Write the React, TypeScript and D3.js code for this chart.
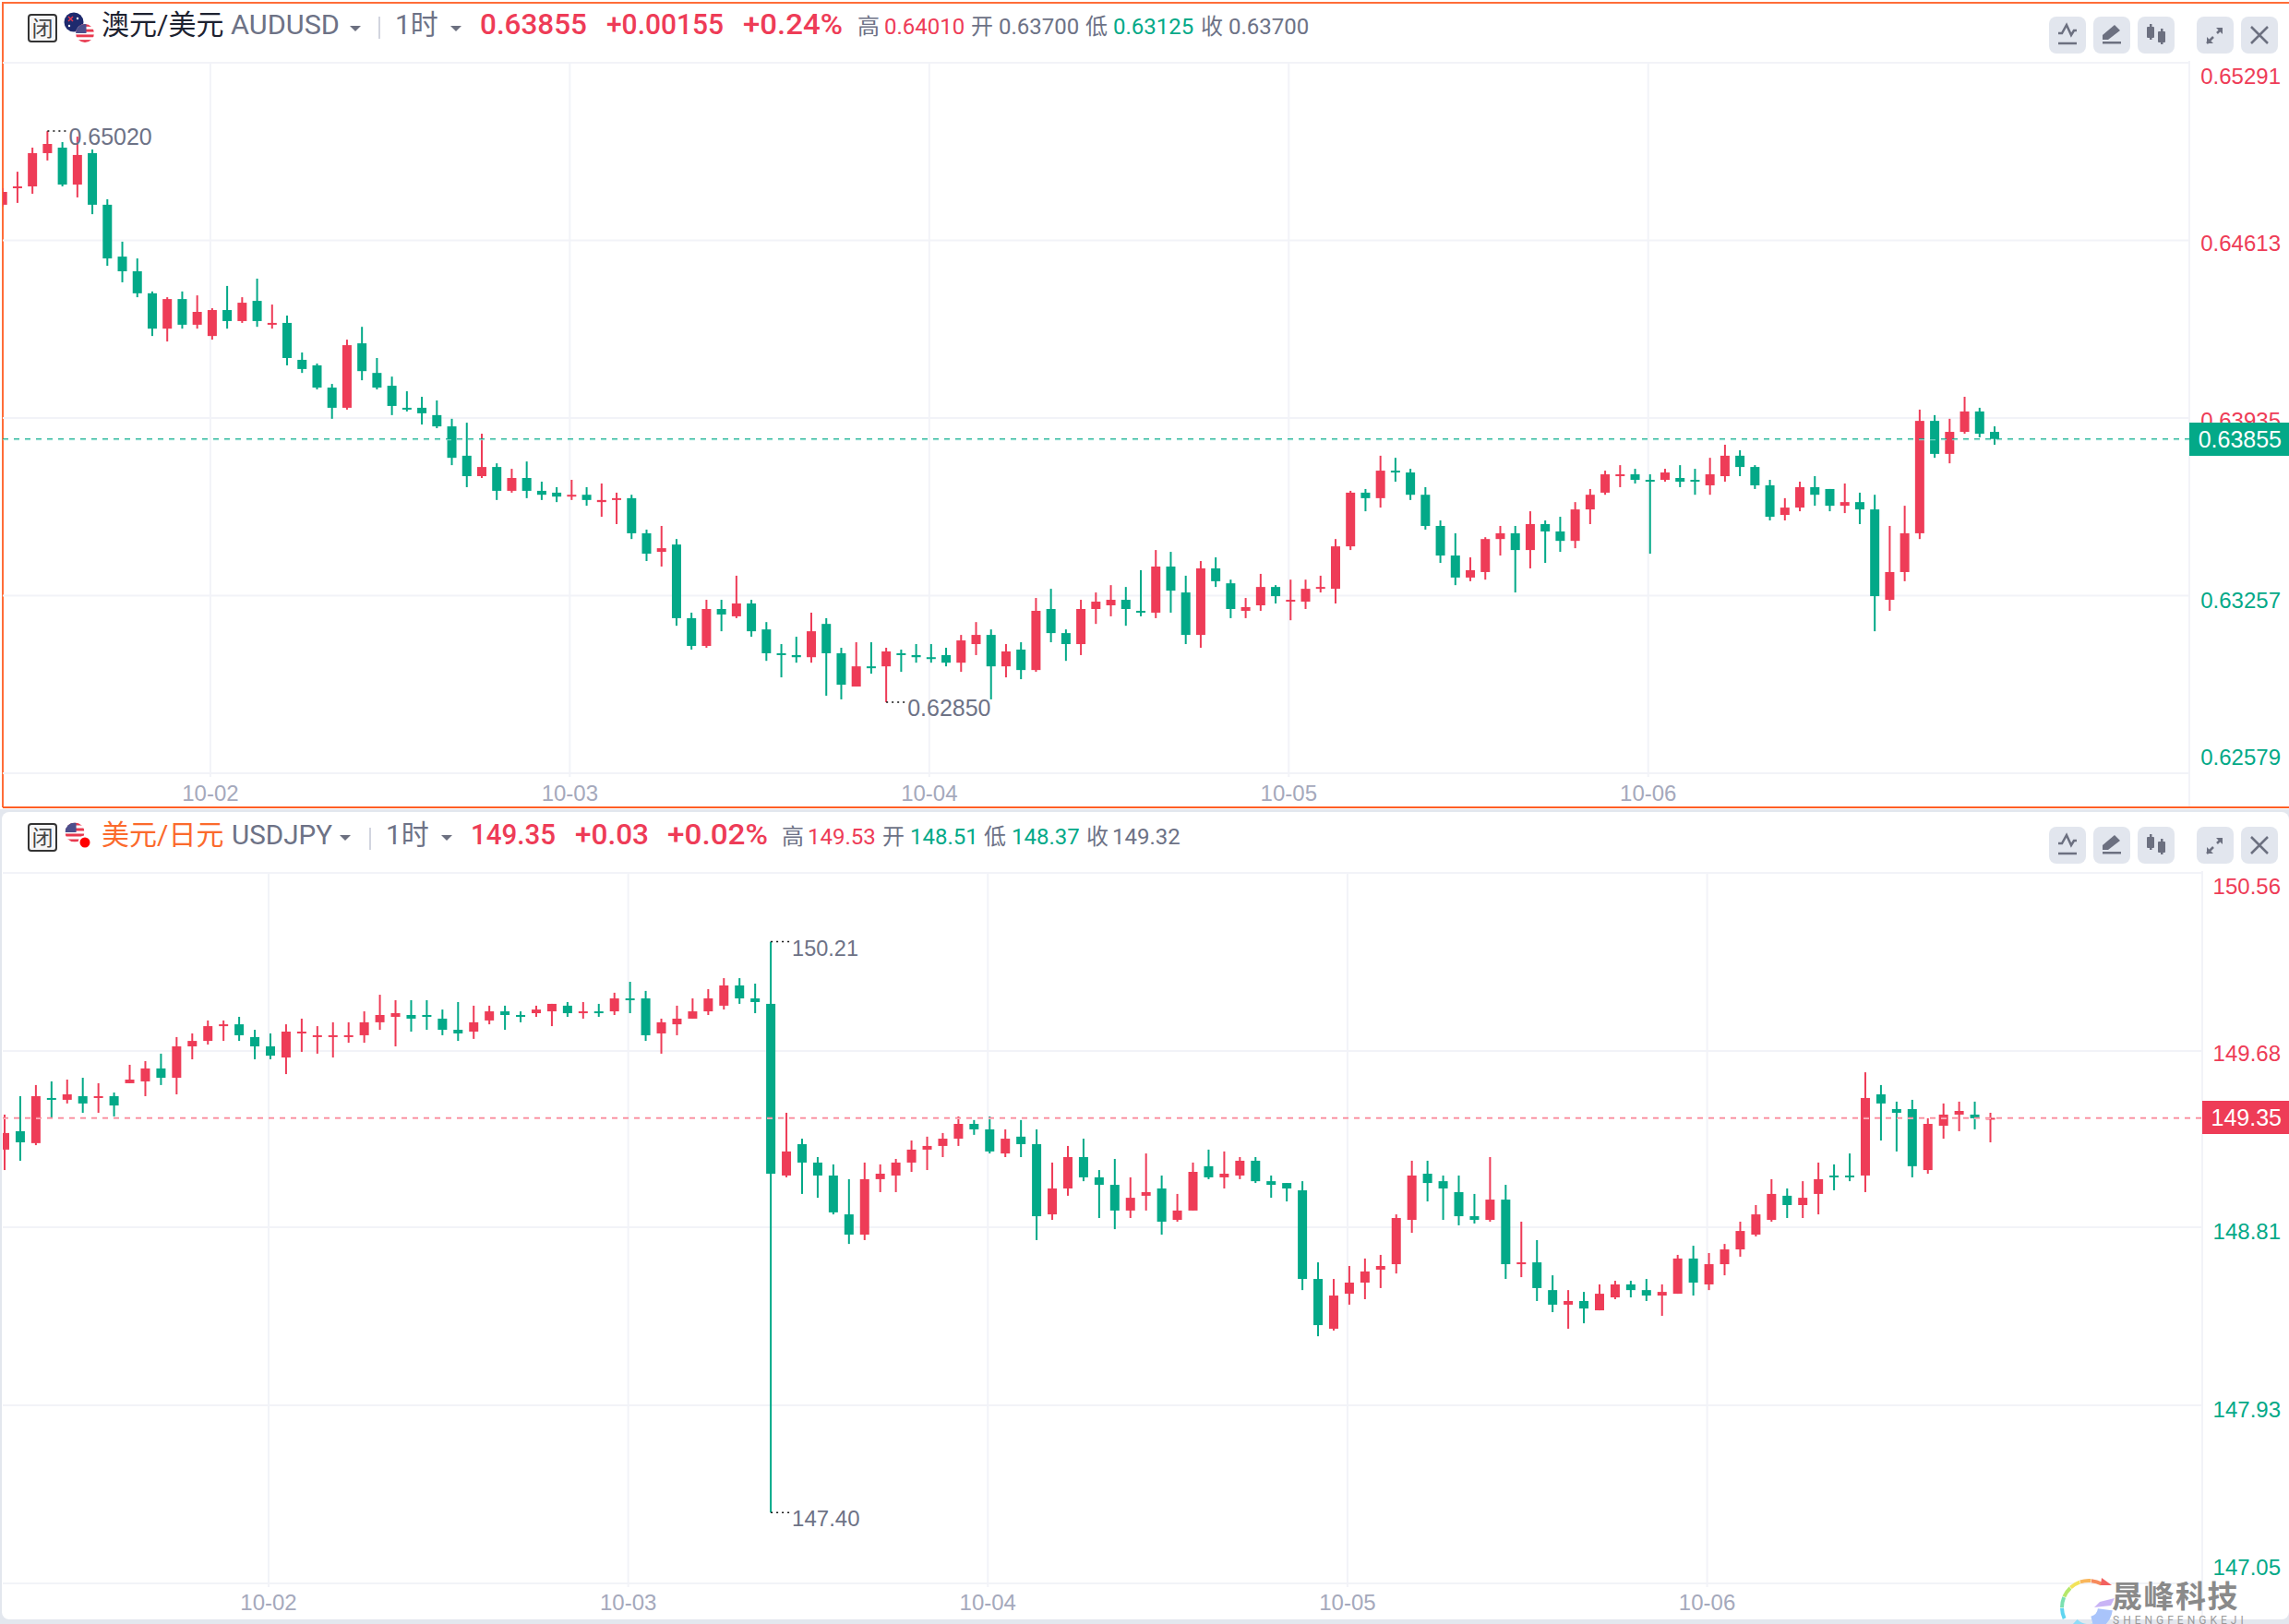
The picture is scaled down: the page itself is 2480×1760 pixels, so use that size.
import React from 'react';
import * as d3 from 'd3';

// AUDUSD 1h candles, in points (1 point = 0.00001)
const audOpen = [
  64749,64812,64819,64946,64967,64826,64946,64749,64551,64495,
  64411,64276,64389,64291,64248,64347,64305,64382,64291,64298,
  64157,64136,64051,63974,64220,64107,64058,63974,63974,63946,
  63903,63791,63713,63748,63657,63706,63657,63650,63635,63642,
  63614,63622,63629,63495,63424,63452,63171,63065,63206,63178,
  63227,63128,63037,63030,63022,63149,63037,62910,62987,62987,
  63037,63030,63022,63030,63001,63072,63107,62987,63051,62973,
  63206,63114,63072,63206,63220,63241,63199,63192,63368,63269,
  63107,63361,63304,63199,63220,63290,63234,63234,63283,63283,
  63445,63650,63629,63734,63727,63642,63523,63410,63326,63347,
  63473,63495,63431,63530,63502,63466,63586,63650,63713,63720,
  63699,63699,63706,63699,63678,63713,63791,63748,63678,63565,
  63593,63671,63664,63600,63614,63586,63241,63347,63495,63924,
  63798,63882,63960,63882,
];
const audHigh = [
  64812,64875,64967,65030,64988,65009,64960,64770,64608,64544,
  64418,64396,64418,64403,64354,64439,64396,64467,64368,64326,
  64185,64143,64065,64234,64283,64164,64093,64037,64016,64002,
  63932,63917,63875,63762,63741,63769,63692,63671,63699,63671,
  63685,63650,63642,63509,63523,63473,63192,63241,63241,63333,
  63241,63156,63072,63100,63192,63171,63058,63079,63079,63058,
  63051,63072,63072,63058,63107,63156,63128,63072,63079,63248,
  63283,63128,63241,63269,63297,63290,63354,63431,63424,63333,
  63389,63403,63318,63248,63340,63297,63318,63318,63333,63473,
  63657,63664,63791,63783,63741,63671,63544,63495,63403,63480,
  63523,63523,63579,63544,63558,63614,63664,63734,63755,63741,
  63720,63741,63755,63741,63783,63833,63812,63755,63699,63629,
  63692,63713,63664,63685,63650,63642,63523,63600,63967,63946,
  63932,64016,63974,63903,
];
const audLow = [
  64742,64756,64791,64918,64819,64777,64713,64516,64453,64396,
  64248,64227,64276,64276,64234,64276,64298,64283,64276,64136,
  64107,64044,63932,63967,64079,64044,63946,63960,63910,63896,
  63755,63671,63706,63622,63650,63629,63622,63614,63622,63600,
  63558,63530,63473,63389,63368,63142,63051,63058,63121,63171,
  63100,63008,62945,63001,63001,62875,62861,62910,62959,62850,
  62966,63001,63001,62987,62966,63030,62861,62945,62938,62966,
  63079,63008,63030,63149,63178,63142,63178,63171,63192,63072,
  63058,63290,63171,63171,63199,63227,63163,63206,63269,63227,
  63431,63579,63593,63692,63622,63509,63382,63297,63312,63318,
  63410,63269,63361,63382,63424,63438,63530,63642,63671,63685,
  63417,63692,63671,63642,63642,63692,63713,63664,63544,63544,
  63579,63600,63579,63572,63530,63121,63199,63312,63473,63783,
  63762,63875,63861,63833,
];
const audClose = [
  64798,64819,64946,64981,64826,64939,64749,64544,64495,64411,
  64276,64389,64291,64340,64347,64305,64375,64305,64298,64164,
  64122,64051,63974,64213,64114,64051,63981,63967,63953,63903,
  63783,63713,63748,63657,63706,63657,63642,63635,63642,63622,
  63622,63629,63495,63417,63438,63171,63065,63206,63185,63227,
  63121,63037,63030,63022,63121,63037,62917,62987,62980,63044,
  63030,63022,63015,63001,63086,63107,62987,63044,62973,63199,
  63114,63072,63206,63234,63241,63206,63192,63368,63276,63107,
  63361,63312,63206,63213,63290,63255,63241,63283,63290,63445,
  63650,63629,63734,63727,63642,63523,63410,63326,63354,63473,
  63495,63431,63530,63502,63466,63586,63642,63720,63720,63699,
  63692,63727,63692,63692,63720,63791,63748,63678,63558,63593,
  63671,63642,63600,63614,63586,63255,63347,63495,63924,63798,
  63882,63960,63875,63855,
];

// USDJPY 1h candles
const jpyOpen = [
  149.193,149.284,149.225,149.448,149.439,149.457,149.448,149.457,149.521,149.530,
  149.594,149.548,149.703,149.730,149.803,149.812,149.749,149.703,149.648,149.767,
  149.749,149.749,149.749,149.758,149.822,149.849,149.858,149.858,149.840,149.785,
  149.776,149.831,149.876,149.858,149.867,149.876,149.904,149.867,149.876,149.876,
  149.940,149.940,149.767,149.812,149.840,149.876,149.904,150.004,149.940,149.913,
  149.065,149.220,149.129,149.065,148.873,148.773,149.047,149.065,149.129,149.193,
  149.211,149.247,149.320,149.293,149.174,149.257,149.220,148.873,149.001,149.156,
  149.056,149.019,148.892,148.965,149.001,148.846,148.892,149.111,149.056,149.065,
  149.138,149.037,149.028,148.992,148.554,148.308,148.481,148.536,148.600,148.627,
  148.846,149.074,149.037,148.983,148.864,148.846,148.946,148.627,148.636,148.499,
  148.427,148.445,148.399,148.463,148.527,148.499,148.472,148.481,148.655,148.527,
  148.627,148.700,148.773,148.846,148.965,148.919,148.974,149.065,149.065,149.065,
  149.466,149.393,149.393,149.092,149.311,149.366,149.366,149.342,
];
const jpyHigh = [
  149.366,149.457,149.512,149.530,149.539,149.548,149.521,149.475,149.612,149.630,
  149.667,149.749,149.767,149.831,149.831,149.849,149.785,149.767,149.812,149.840,
  149.803,149.822,149.822,149.876,149.958,149.931,149.931,149.931,149.885,149.922,
  149.904,149.904,149.904,149.876,149.904,149.913,149.922,149.922,149.913,149.968,
  150.022,149.977,149.840,149.904,149.940,149.986,150.040,150.040,150.013,150.22,
  149.375,149.247,149.156,149.120,149.047,149.129,149.120,149.147,149.238,149.257,
  149.275,149.357,149.339,149.357,149.293,149.339,149.293,149.129,149.211,149.247,
  149.092,149.147,149.056,149.174,149.065,148.974,149.129,149.193,149.184,149.156,
  149.156,149.065,149.028,149.037,148.636,148.554,148.618,148.655,148.673,148.873,
  149.138,149.138,149.065,149.065,148.974,149.156,149.019,148.837,148.746,148.572,
  148.499,148.490,148.527,148.545,148.545,148.554,148.527,148.673,148.718,148.682,
  148.727,148.837,148.919,149.047,149.001,149.037,149.129,149.120,149.174,149.575,
  149.512,149.430,149.439,149.348,149.421,149.430,149.430,149.375,
];
const jpyLow = [
  149.092,149.138,149.215,149.348,149.421,149.375,149.375,149.357,149.521,149.457,
  149.512,149.466,149.639,149.712,149.730,149.730,149.639,149.639,149.566,149.676,
  149.667,149.648,149.721,149.721,149.785,149.703,149.776,149.785,149.758,149.730,
  149.740,149.812,149.785,149.822,149.849,149.803,149.849,149.840,149.849,149.858,
  149.867,149.730,149.667,149.758,149.840,149.858,149.885,149.913,149.867,147.40,
  149.056,148.974,148.955,148.873,148.727,148.746,148.983,148.983,149.083,149.092,
  149.156,149.211,149.266,149.174,149.156,149.156,148.746,148.846,148.965,149.037,
  148.855,148.800,148.855,148.892,148.773,148.837,148.892,149.047,149.001,149.047,
  149.028,148.955,148.937,148.499,148.271,148.299,148.427,148.454,148.509,148.581,
  148.782,148.937,148.846,148.819,148.828,148.837,148.554,148.563,148.445,148.390,
  148.308,148.335,148.399,148.454,148.463,148.445,148.372,148.481,148.472,148.499,
  148.572,148.664,148.764,148.837,148.855,148.855,148.873,148.992,149.037,148.983,
  149.238,149.184,149.056,149.074,149.247,149.284,149.293,149.229,
];
const jpyClose = [
  149.275,149.229,149.457,149.439,149.466,149.421,149.457,149.411,149.539,149.594,
  149.548,149.703,149.730,149.803,149.812,149.758,149.703,149.657,149.776,149.776,
  149.758,149.758,149.758,149.822,149.858,149.867,149.840,149.849,149.785,149.767,
  149.822,149.876,149.858,149.849,149.885,149.913,149.867,149.876,149.867,149.940,
  149.931,149.758,149.822,149.840,149.876,149.940,150.004,149.940,149.922,149.074,
  149.184,149.129,149.065,148.883,148.773,149.047,149.074,149.129,149.193,149.211,
  149.247,149.320,149.293,149.184,149.247,149.220,148.864,149.001,149.156,149.056,
  149.019,148.892,148.955,148.983,148.837,148.892,149.083,149.056,149.074,149.138,
  149.037,149.019,149.001,148.554,148.326,148.472,148.536,148.591,148.618,148.855,
  149.065,149.028,149.001,148.864,148.846,148.946,148.627,148.636,148.509,148.427,
  148.445,148.408,148.481,148.527,148.499,148.472,148.490,148.655,148.536,148.627,
  148.700,148.791,148.873,148.974,148.919,148.955,149.047,149.056,149.056,149.448,
  149.421,149.375,149.111,149.320,149.366,149.384,149.348,149.350,
];

const dayLabels = ['10-02', '10-03', '10-04', '10-05', '10-06'];
const audDayIndex = [14, 38, 62, 86, 110];
const jpyDayIndex = [17, 40, 63, 86, 109];
const audTicks = [0.65291, 0.64613, 0.63935, 0.63257, 0.62579];
const jpyTicks = [150.56, 149.68, 148.81, 147.93, 147.05];

const RED = '#ee3c57';
const GREEN = '#03a988';
const GRID = '#f2f3f8';
const GREY = '#6d7286';
const ICON = '#6c7080';
const SANS = "Roboto, 'Noto Sans CJK SC', sans-serif";
const AXIS_FONT = "'Liberation Sans', 'Noto Sans CJK SC', sans-serif";

const fromPoints = (v: number) => v / 100000;

type Marker = { index: number; value: number; label: string; size: number };

type PanelProps = {
  open: number[]; high: number[]; low: number[]; close: number[];
  ticks: number[]; digits: number; dayIndex: number[];
  plotTop: number; plotBottom: number; panelBottom: number; axisX: number;
  firstX: number; lastX: number; last: number;
  lastColor: string; lineColor: string; lineLight: string; lineWidth: number;
  tagTop: number; tagBottom: number;
  labelY: number; markers: Marker[]; clipId: string; redTicks: number;
};

function Panel(p: PanelProps) {
  const n = p.open.length;
  const x = d3.scaleLinear().domain([0, n - 1]).range([p.firstX, p.lastX]);
  const y = d3.scaleLinear()
    .domain([p.ticks[p.ticks.length - 1], p.ticks[0]])
    .range([p.plotBottom, p.plotTop]);
  const lastY = y(p.last);
  const dayX = (i: number) => x(i) - 2;
  // first and last labels are pushed inside the plot, the others sit under their line
  const labelCenter = (v: number, i: number) => {
    if (i === 0) return y(v) + 15;
    if (i === p.ticks.length - 1) return y(v) - 17;
    return y(v) + (i < p.redTicks ? 3 : 5);
  };

  return (
    <g>
      <clipPath id={p.clipId}>
        <rect x={3} y={p.plotTop} width={p.axisX - 3} height={p.plotBottom - p.plotTop} />
      </clipPath>

      {p.ticks.map(t => (
        <line key={t} x1={3} x2={p.axisX} y1={y(t)} y2={y(t)} stroke={GRID} strokeWidth={2} />
      ))}
      {p.dayIndex.map(i => (
        <line key={i} x1={dayX(i)} x2={dayX(i)} y1={p.plotTop} y2={p.plotBottom + 4} stroke={GRID} strokeWidth={2} />
      ))}
      <line x1={p.axisX} x2={p.axisX} y1={p.plotTop - 2} y2={p.panelBottom} stroke={GRID} strokeWidth={2} />

      <g clipPath={`url(#${p.clipId})`}>
        {p.open.map((o, i) => {
          const c = p.close[i];
          const color = c >= o ? RED : GREEN;
          const top = y(Math.max(o, c));
          const bottom = y(Math.min(o, c));
          return (
            <g key={i} fill={color}>
              <rect x={x(i) - 1} width={2} y={y(p.high[i])} height={y(p.low[i]) - y(p.high[i])} />
              <rect x={x(i) - 5} width={10} y={top} height={Math.max(bottom - top, 2)} />
            </g>
          );
        })}
      </g>

      <line x1={3} x2={p.axisX} y1={lastY + 1} y2={lastY + 1} stroke={p.lineLight} strokeWidth={1} strokeDasharray="6 6" />
      <line x1={3} x2={p.axisX} y1={lastY} y2={lastY} stroke={p.lineColor} strokeWidth={p.lineWidth} strokeDasharray="6 6" />

      {p.markers.map(m => {
        const my = y(m.value);
        return (
          <g key={m.label}>
            <line x1={x(m.index)} x2={x(m.index) + 20} y1={my} y2={my} stroke="#111" strokeWidth={1.5} strokeDasharray="2 4" />
            <text x={x(m.index) + 23} y={my + 15} fontFamily={AXIS_FONT} fontSize={m.size} fill={GREY}>{m.label}</text>
          </g>
        );
      })}

      {p.ticks.map((t, i) => (
        <text key={t} x={2471} y={labelCenter(t, i) + 8} textAnchor="end" fontFamily={AXIS_FONT} fontSize={24}
          fill={i < p.redTicks ? RED : GREEN}>{t.toFixed(p.digits)}</text>
      ))}

      <rect x={p.axisX} y={p.tagTop} width={2480 - p.axisX} height={p.tagBottom - p.tagTop} fill={p.lastColor} />
      <text x={2472} y={lastY + 9} textAnchor="end" fontFamily={AXIS_FONT} fontSize={25} fill="#fff">{p.last.toFixed(p.digits)}</text>

      {p.dayIndex.map((i, k) => (
        <text key={i} x={dayX(i)} y={p.labelY} textAnchor="middle" fontFamily={AXIS_FONT} fontSize={24} fill="#a5a9bc">{dayLabels[k]}</text>
      ))}
    </g>
  );
}

type HeadText = { text: string; x: number; fill: string; big?: boolean; cjk?: boolean; width?: number };

function Header({ items, baseline }: { items: HeadText[]; baseline: number }) {
  return (
    <g>
      {items.map((t, i) => (
        <text key={i} x={t.x} y={baseline} fontFamily={SANS} fill={t.fill}
          fontSize={t.cjk ? 30 : t.big ? 32 : 24} fontWeight={t.big ? 500 : 400}
          textLength={t.width} lengthAdjust={t.width ? 'spacingAndGlyphs' : undefined}>{t.text}</text>
      ))}
    </g>
  );
}

function ClosedBadge({ y }: { y: number }) {
  return (
    <g>
      <rect x={31} y={y} width={30} height={29} rx={3} fill="#f5f5f6" stroke="#333" strokeWidth={2} />
      <text x={46} y={y + 23} textAnchor="middle" fontFamily={SANS} fontSize={23} fill="#444">闭</text>
    </g>
  );
}

function Caret({ x, y }: { x: number; y: number }) {
  return <path d={`M${x},${y}h12l-6,6z`} fill={ICON} />;
}

function UsFlag({ cx, cy, r, id }: { cx: number; cy: number; r: number; id: string }) {
  const stripes = d3.range(-r, r, r / 3.5);
  return (
    <g>
      <clipPath id={id}><circle cx={cx} cy={cy} r={r} /></clipPath>
      <g clipPath={`url(#${id})`}>
        <rect x={cx - r} y={cy - r} width={2 * r} height={2 * r} fill="#fff" />
        {stripes.filter((_, i) => i % 2 === 0).map(s => (
          <rect key={s} x={cx - r} y={cy + s} width={2 * r} height={r / 3.5} fill="#e8394f" />
        ))}
        <rect x={cx - r} y={cy - r} width={r * 1.15} height={r * 1.0} fill="#4d4f8c" />
      </g>
    </g>
  );
}

function ToolButtons({ y }: { y: number }) {
  const btn = (x: number, children: React.ReactNode) => (
    <g transform={`translate(${x},${y})`}>
      <rect width={40} height={40} rx={8} fill="#e2e6ee" />
      {children}
    </g>
  );
  return (
    <g>
      {btn(2220, <g fill="none" stroke={ICON} strokeWidth={2.5}>
        <path d="M10,18H14L19,9L24,20L27,15H30" />
        <path d="M10,29H30" />
      </g>)}
      {btn(2268, <g fill={ICON}>
        <path d="M10,25V20L23,9L29,15L16,25Z" />
        <rect x={10} y={27} width={20} height={2.5} />
      </g>)}
      {btn(2316, <g fill={ICON}>
        <rect x={13} y={8} width={2.5} height={17} />
        <rect x={10} y={11} width={8} height={12} rx={1} />
        <rect x={25} y={13} width={2.5} height={17} />
        <rect x={22} y={16} width={8} height={12} rx={1} />
      </g>)}
      {btn(2380, <g>
        <path d="M22,18L27,13M11,29L18,22" stroke={ICON} strokeWidth={2.5} />
        <path d="M21,12H28V19ZM11,22L18,29H11Z" fill={ICON} />
      </g>)}
      {btn(2428, <path d="M11,11L29,29M29,11L11,29" stroke={ICON} strokeWidth={2.5} />)}
    </g>
  );
}

const logoColors = ['#5fd5f0', '#7be0b0', '#b6e86a', '#f2e35a', '#f9b65a', '#f78a5c'];

function Watermark() {
  const arc = d3.arc();
  const step = 0.42;
  return (
    <g>
      <g transform="translate(2263,1742)">
        {logoColors.map((c, i) => (
          <path key={c} fill={c} d={arc({
            innerRadius: 27, outerRadius: 31,
            startAngle: -2.0 + i * step, endAngle: -2.0 + (i + 1) * step - 0.02,
          }) as string} />
        ))}
        <path d="M14,-32L25,-24L13,-24Z" fill="#f2615f" />
        <path fill="#a9c4fb" d={arc({ innerRadius: 10, outerRadius: 26, startAngle: 1.7, endAngle: 2.9 }) as string} />
        <path fill="#8fdcf8" d={arc({ innerRadius: 18, outerRadius: 32, startAngle: 2.9, endAngle: 3.9 }) as string} />
        <path d="M12,-6L28,-10L24,-2L6,0Z" fill="#c9b4f5" />
      </g>
      <text x={2288} y={1742} fontFamily="'Noto Sans CJK SC', sans-serif" fontWeight={700} fontSize={33} letterSpacing={1.5} fill="#8a8a8a">晟峰科技</text>
      <text x={2289} y={1760} fontFamily={SANS} fontSize={12} letterSpacing={4} fill="#9a9a9a">SHENGFENGKEJI</text>
    </g>
  );
}

const audHeader: HeadText[] = [
  { text: '澳元/美元', x: 110, fill: '#1d2230', cjk: true },
  { text: 'AUDUSD', x: 250, fill: GREY, cjk: true, width: 118 },
  { text: '1时', x: 428, fill: GREY, cjk: true },
  { text: '0.63855', x: 520, fill: RED, big: true, width: 116 },
  { text: '+0.00155', x: 657, fill: RED, big: true, width: 127 },
  { text: '+0.24%', x: 805, fill: RED, big: true, width: 108 },
  { text: '高', x: 929, fill: GREY },
  { text: '0.64010', x: 958, fill: RED },
  { text: '开', x: 1052, fill: GREY },
  { text: '0.63700', x: 1082, fill: GREY },
  { text: '低', x: 1176, fill: GREY },
  { text: '0.63125', x: 1206, fill: GREEN },
  { text: '收', x: 1301, fill: GREY },
  { text: '0.63700', x: 1331, fill: GREY },
];

const jpyHeader: HeadText[] = [
  { text: '美元/日元', x: 110, fill: '#fb6a2c', cjk: true },
  { text: 'USDJPY', x: 251, fill: GREY, cjk: true, width: 109 },
  { text: '1时', x: 418, fill: GREY, cjk: true },
  { text: '149.35', x: 510, fill: RED, big: true, width: 92 },
  { text: '+0.03', x: 623, fill: RED, big: true, width: 80 },
  { text: '+0.02%', x: 723, fill: RED, big: true, width: 109 },
  { text: '高', x: 847, fill: GREY },
  { text: '149.53', x: 875, fill: RED },
  { text: '开', x: 956, fill: GREY },
  { text: '148.51', x: 986, fill: GREEN },
  { text: '低', x: 1066, fill: GREY },
  { text: '148.37', x: 1096, fill: GREEN },
  { text: '收', x: 1177, fill: GREY },
  { text: '149.32', x: 1205, fill: GREY },
];

export default function App() {
  return (
    <svg width={2480} height={1760} viewBox="0 0 2480 1760"
      style={{ position: 'absolute', left: 0, top: 0, display: 'block' }}>
      <rect width={2480} height={1760} fill="#e3e7ee" />

      {/* top panel */}
      <rect width={2480} height={877} fill="#fff" />
      <path d="M3,875V3H2480" fill="none" stroke="#ff6d38" strokeWidth={2} />
      <path d="M3,875H2480" fill="none" stroke="#ff5f25" strokeWidth={2} />
      <Panel
        open={audOpen.map(fromPoints)} high={audHigh.map(fromPoints)}
        low={audLow.map(fromPoints)} close={audClose.map(fromPoints)}
        ticks={audTicks} digits={5} dayIndex={audDayIndex} redTicks={3}
        plotTop={68} plotBottom={838} panelBottom={874} axisX={2372}
        firstX={2.7} lastX={2161} last={0.63855}
        lastColor={GREEN} lineColor={GREEN} lineLight="#a6e6da" lineWidth={1}
        tagTop={458} tagBottom={494}
        labelY={868} clipId="audClip"
        markers={[
          { index: 3, value: 0.6503, label: '0.65020', size: 25 },
          { index: 59, value: 0.6285, label: '0.62850', size: 25 },
        ]}
      />
      <ClosedBadge y={16} />
      <circle cx={80} cy={24} r={10.5} fill="#1e2a6e" />
      <path d="M74,18l5,5M79,18l-5,5" stroke="#e8394f" strokeWidth={1.5} />
      <circle cx={84} cy={20} r={1.2} fill="#fff" />
      <circle cx={75} cy={28} r={1.2} fill="#fff" />
      <UsFlag cx={92} cy={36} r={10} id="usA" />
      <Header items={audHeader} baseline={37} />
      <Caret x={379} y={28} />
      <rect x={410} y={18} width={2} height={24} fill="#d2d5df" />
      <Caret x={488} y={28} />
      <ToolButtons y={18} />

      {/* bottom panel */}
      <rect x={2} y={880} width={2478} height={875} rx={8} fill="#fff" />
      <Panel
        open={jpyOpen} high={jpyHigh} low={jpyLow} close={jpyClose}
        ticks={jpyTicks} digits={2} dayIndex={jpyDayIndex} redTicks={2}
        plotTop={946} plotBottom={1716} panelBottom={1755} axisX={2386}
        firstX={5} lastX={2156.5} last={149.35}
        lastColor={RED} lineColor="#f98a9c" lineLight="#fcc5ce" lineWidth={1.5}
        tagTop={1193} tagBottom={1229}
        labelY={1745} clipId="jpyClip"
        markers={[
          { index: 49, value: 150.22, label: '150.21', size: 23.5 },
          { index: 49, value: 147.4, label: '147.40', size: 24 },
        ]}
      />
      <ClosedBadge y={893} />
      <UsFlag cx={81} cy={902} r={10.5} id="usB" />
      <circle cx={92} cy={913} r={7.5} fill="#fff" />
      <circle cx={92} cy={913} r={5.5} fill="#f00" />
      <Header items={jpyHeader} baseline={915} />
      <Caret x={368} y={905} />
      <rect x={400} y={897} width={2} height={24} fill="#d2d5df" />
      <Caret x={478} y={905} />
      <ToolButtons y={896} />

      <Watermark />
    </svg>
  );
}
